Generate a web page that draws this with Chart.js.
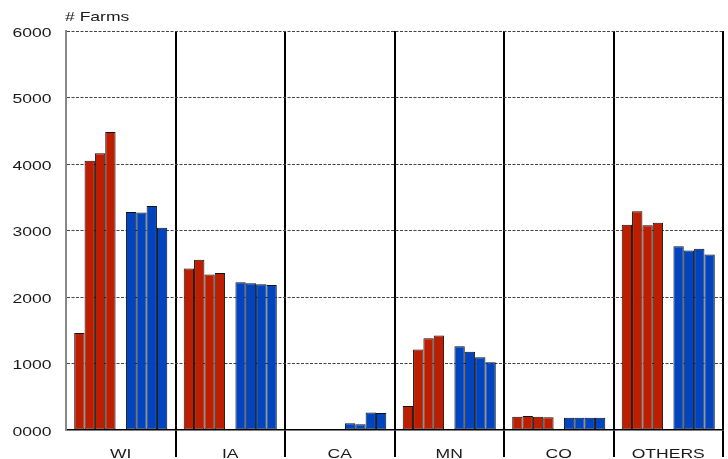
<!DOCTYPE html>
<html>
<head>
<meta charset="utf-8">
<script src="https://cdn.jsdelivr.net/npm/chart.js@4.4.1/dist/chart.umd.min.js"></script>
<style>
  body { margin: 0; background: #fff; }
  canvas { display: block; }
</style>
</head>
<body>
<canvas id="farmsChart" width="728" height="459"></canvas>
<script>
// data
var categories = ['WI', 'IA', 'CA', 'MN', 'CO', 'OTHERS'];
var red1 = [1460, 2430, 0, 360, 200, 3085];
var red2 = [4050, 2560, 0, 1210, 210, 3290];
var red3 = [4160, 2340, 0, 1380, 200, 3080];
var red4 = [4480, 2360, 0, 1420, 190, 3115];
var blue1 = [3280, 2220, 100, 1260, 185, 2765];
var blue2 = [3270, 2205, 85, 1175, 185, 2700];
var blue3 = [3370, 2190, 265, 1095, 185, 2725];
var blue4 = [3040, 2180, 255, 1020, 185, 2640];
var yTickValues = [0, 1000, 2000, 3000, 4000, 5000, 6000];
var yTickLabels = ['0000', '1000', '2000', '3000', '4000', '5000', '6000'];
var yTitle = '# Farms';

var RED = '#BE1E00';
var BLUE = '#0044BF';
var TEXT = '#1a1a1a';
var STRETCH = 1.35;

function barSet(data, color) {
    return {
        data: data,
        backgroundColor: color,
        borderColor: '#111',
        borderWidth: 1,
        borderSkipped: false,
        inflateAmount: 0,
        barPercentage: 1,
        categoryPercentage: 0.85
    };
}

// labels look horizontally stretched in the original, so draw them by hand
function stretchedText(ctx, text, x, y, align, baseline) {
    ctx.save();
    ctx.translate(x, y);
    ctx.scale(STRETCH, 1);
    ctx.textAlign = align;
    ctx.textBaseline = baseline;
    ctx.fillText(text, 0, 0);
    ctx.restore();
}

var labelsPlugin = {
    id: 'stretchedLabels',
    afterDraw: function(chart) {
        var ctx = chart.ctx;
        var xs = chart.scales.x, ys = chart.scales.y;
        ctx.save();
        ctx.fillStyle = TEXT;
        ctx.font = '13px "Liberation Sans", Arial, sans-serif';
        yTickValues.forEach(function(v, i) {
            stretchedText(ctx, yTickLabels[i], 51.5, ys.getPixelForValue(v) + 2, 'right', 'middle');
        });
        categories.forEach(function(c, i) {
            stretchedText(ctx, c, xs.getPixelForValue(i), 458, 'center', 'alphabetic');
        });
        stretchedText(ctx, yTitle, 65, 21, 'left', 'alphabetic');
        ctx.restore();
    }
};

var chart = new Chart(document.getElementById('farmsChart'), {
    type: 'bar',
    data: {
        labels: categories,
        datasets: [
            barSet(red1, RED), barSet(red2, RED), barSet(red3, RED), barSet(red4, RED),
            barSet(categories.map(function() { return null; }), 'transparent'),
            barSet(blue1, BLUE), barSet(blue2, BLUE), barSet(blue3, BLUE), barSet(blue4, BLUE)
        ]
    },
    options: {
        responsive: false,
        animation: false,
        layout: { padding: { top: 31, right: 5, left: 0, bottom: 0 } },
        plugins: {
            legend: { display: false },
            tooltip: { enabled: false }
        },
        scales: {
            x: {
                offset: true,
                ticks: { display: false },
                grid: {
                    offset: true,
                    tickLength: 27,
                    color: function(c) {
                        if (c.index === 0) return 'transparent';
                        return '#000';
                    },
                    tickColor: function(c) {
                        if (c.index === 0 || c.index === categories.length) return 'transparent';
                        return '#000';
                    },
                    lineWidth: function(c) {
                        return c.index === categories.length ? 1 : 2;
                    }
                },
                border: { display: true, color: '#000', width: 1.5 },
                afterFit: function(s) { s.height = 29; }
            },
            y: {
                min: 0,
                max: 6000,
                ticks: { display: false, stepSize: 1000 },
                grid: {
                    drawTicks: false,
                    color: function(c) {
                        return c.tick && c.tick.value === 0 ? 'transparent' : '#444';
                    },
                    lineWidth: 1
                },
                border: { display: true, color: '#888', width: 2, dash: [3, 1.5] },
                afterFit: function(s) { s.width = 66; }
            }
        }
    },
    plugins: [labelsPlugin]
});
</script>
</body>
</html>
